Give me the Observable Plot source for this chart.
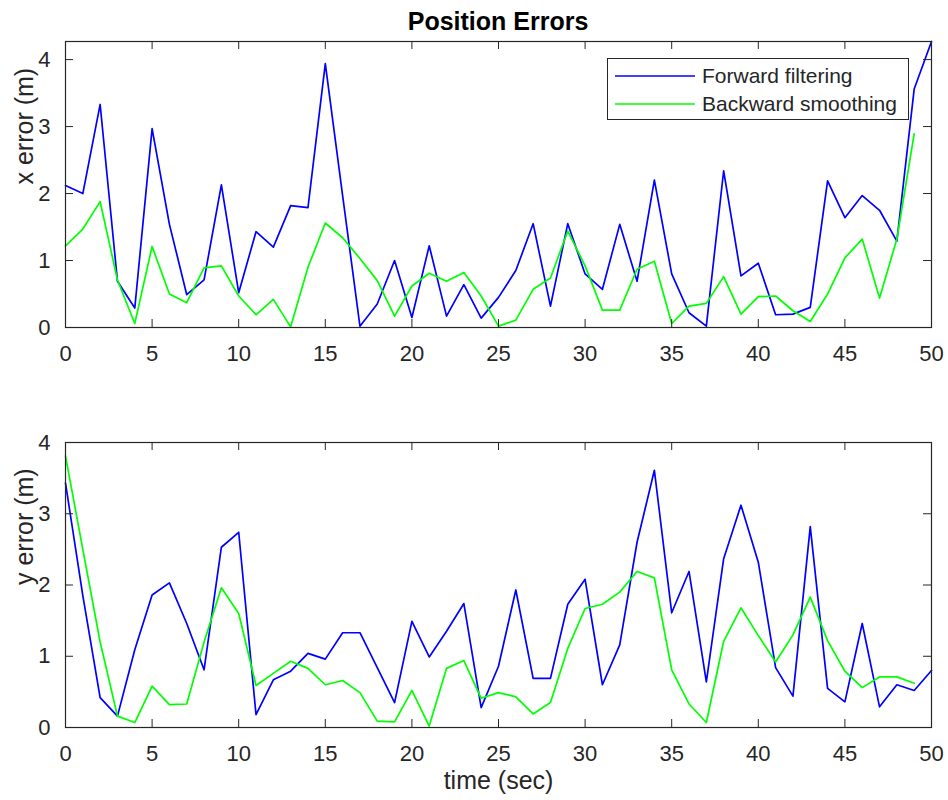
<!DOCTYPE html>
<html><head><meta charset="utf-8">
<script src="https://cdn.jsdelivr.net/npm/d3@7"></script>
<script src="https://cdn.jsdelivr.net/npm/@observablehq/plot@0.6"></script>
<style>
body{margin:0;background:#fff;font-family:"Liberation Sans",Arial,Helvetica,sans-serif;}
#wrap{position:relative;width:948px;height:800px;overflow:hidden;background:#fff;}
#title{position:absolute;left:65px;width:866px;top:9px;text-align:center;font-weight:bold;font-size:25px;line-height:25px;color:#000;}
#p1{position:absolute;left:0;top:30px;}
#p2{position:absolute;left:0;top:380px;}
#legend{position:absolute;left:607px;top:58px;width:302px;height:62px;border:1px solid #262626;background:#fff;box-sizing:border-box;}
#legend svg{display:block;}
</style></head><body>
<div id="wrap">
  <div id="title">Position Errors</div>
  <div id="p1"></div>
  <div id="p2"></div>
  <div id="legend"></div>
</div>
<script>
const time = [0,1,2,3,4,5,6,7,8,9,10,11,12,13,14,15,16,17,18,19,20,21,22,23,24,25,26,27,28,29,30,31,32,33,34,35,36,37,38,39,40,41,42,43,44,45,46,47,48,49,50];
const seriesNames = ["Forward filtering", "Backward smoothing"];
const seriesColors = ["#0000ff", "#00ff00"];
const xForward = [2.12,2.00,3.33,0.69,0.29,2.97,1.54,0.49,0.71,2.13,0.52,1.43,1.20,1.82,1.79,3.94,1.97,0.02,0.35,1.00,0.15,1.22,0.17,0.64,0.14,0.45,0.85,1.55,0.32,1.55,0.80,0.57,1.54,0.69,2.20,0.80,0.22,0.02,2.34,0.77,0.96,0.19,0.20,0.30,2.19,1.64,1.97,1.75,1.29,3.56,4.27];
const xBackward = [1.22,1.47,1.88,0.71,0.06,1.21,0.50,0.37,0.89,0.92,0.47,0.19,0.42,0.01,0.90,1.56,1.34,1.03,0.70,0.17,0.62,0.81,0.69,0.82,0.47,0.02,0.11,0.57,0.74,1.44,0.92,0.26,0.26,0.87,0.99,0.06,0.32,0.36,0.76,0.20,0.46,0.47,0.25,0.09,0.50,1.04,1.32,0.44,1.32,2.89];
const yForward = [3.43,1.85,0.42,0.16,1.09,1.86,2.03,1.46,0.81,2.53,2.74,0.18,0.67,0.79,1.04,0.96,1.33,1.33,0.84,0.35,1.49,0.99,1.35,1.74,0.28,0.86,1.93,0.69,0.69,1.73,2.08,0.60,1.16,2.60,3.61,1.61,2.19,0.64,2.37,3.12,2.32,0.84,0.44,2.82,0.55,0.36,1.46,0.29,0.60,0.52,0.80];
const yBackward = [3.81,2.50,1.20,0.16,0.07,0.58,0.32,0.33,1.20,1.96,1.60,0.59,0.76,0.93,0.83,0.60,0.66,0.49,0.09,0.08,0.52,0.02,0.83,0.94,0.41,0.49,0.43,0.19,0.35,1.11,1.67,1.73,1.90,2.19,2.10,0.81,0.33,0.07,1.21,1.68,1.29,0.92,1.30,1.83,1.22,0.79,0.56,0.71,0.71,0.62];
const xTicks = [0,5,10,15,20,25,30,35,40,45,50];
const yTicks = [0,1,2,3,4];
const xDomain = [0, 50];
const topYDomain = [0, 4.27];
const botYDomain = [0, 4];
const yLabels = ["x error (m)", "y error (m)"];
const xLabel = "time (sec)";

const AX = "#262626";
const FONT = '"Liberation Sans", Arial, Helvetica, sans-serif';
const fmt = d => String(d);

function panel(fwd, bwd, ylabel, ydomain, H, mt, mb, extraMarks) {
  const W = 948, ml = 65, mr = 17;
  const ih = H - mt - mb, iw = W - ml - mr, TL = 8;
  const fdata = fwd.map((v, i) => ({t: time[i], v}));
  const bdata = bwd.map((v, i) => ({t: time[i], v}));
  return Plot.plot({
    width: W, height: H,
    marginTop: mt, marginBottom: mb, marginLeft: ml, marginRight: mr,
    style: {fontFamily: FONT, fontSize: "22px", color: AX, background: "transparent", overflow: "visible"},
    x: {domain: xDomain, label: null},
    y: {domain: ydomain, label: null},
    marks: [
      Plot.line(fdata, {x: "t", y: "v", stroke: seriesColors[0], strokeWidth: 1.7}),
      Plot.line(bdata, {x: "t", y: "v", stroke: seriesColors[1], strokeWidth: 1.7}),
      Plot.tickX(xTicks, {x: d => d, insetTop: ih - TL, stroke: AX}),
      Plot.tickX(xTicks, {x: d => d, insetBottom: ih - TL, stroke: AX}),
      Plot.tickY(yTicks, {y: d => d, insetRight: iw - TL, stroke: AX}),
      Plot.tickY(yTicks, {y: d => d, insetLeft: iw - TL, stroke: AX}),
      Plot.frame({stroke: AX, strokeWidth: 1.2}),
      Plot.axisX(xTicks, {tickSize: 0, tickPadding: 18, label: null, fill: AX, fontSize: 22, tickFormat: fmt}),
      Plot.axisY(yTicks, {tickSize: 0, tickPadding: 15, label: null, fill: AX, fontSize: 22, tickFormat: fmt}),
      Plot.text([ylabel], {frameAnchor: "left", dx: -41, rotate: -90, fontSize: 25, fill: AX}),
      ...extraMarks
    ]
  });
}

document.getElementById("p1").append(panel(xForward, xBackward, yLabels[0], topYDomain, 350, 11, 53, []));
document.getElementById("p2").append(panel(yForward, yBackward, yLabels[1], botYDomain, 420, 62, 73,
  [Plot.text([xLabel], {frameAnchor: "bottom", dy: 61, fontSize: 25, fill: AX})]));

// legend
const leg = d3.select("#legend").append("svg").attr("width", 300).attr("height", 60);
seriesNames.forEach((name, i) => {
  const y = 17 + i * 28;
  leg.append("line").attr("x1", 7).attr("x2", 87).attr("y1", y).attr("y2", y)
    .attr("stroke", seriesColors[i]).attr("stroke-width", 1.7);
  leg.append("text").attr("x", 94).attr("y", y).attr("dy", "0.35em")
    .attr("font-size", 21).attr("font-family", FONT).attr("fill", AX).text(name);
});
</script>
</body></html>
